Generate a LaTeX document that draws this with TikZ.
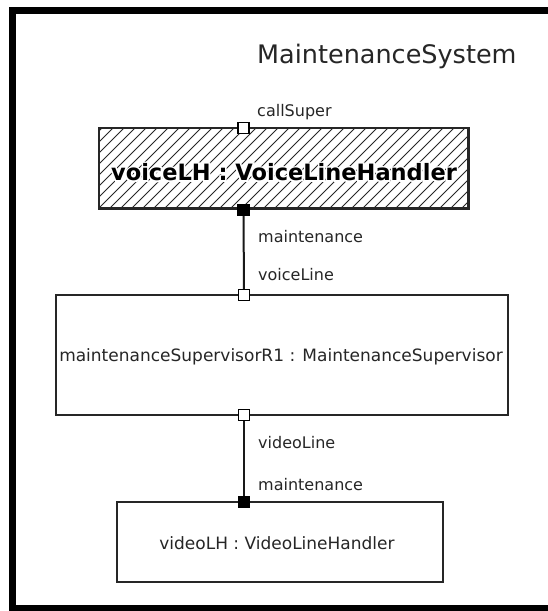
\documentclass[tikz,border=0pt]{standalone}
\usepackage{fontspec}
\setmainfont{DejaVu Sans}
\newcommand{\halotext}[1]{\rlap{\color{white}\special{pdf:literal direct 2 Tr 3.2 w}#1\special{pdf:literal direct 0 Tr}}#1}
\begin{document}
\begin{tikzpicture}[x=1pt,y=-1pt,
  compbox/.style={draw=black!85, line width=1.5pt, inner sep=0pt},
  portopen/.style={draw=black, fill=white, line width=1.3pt, minimum size=11pt, inner sep=0pt},
  portfilled/.style={draw=black, fill=black, line width=1.3pt, minimum size=11pt, inner sep=0pt},
  conn/.style={draw=black!90, line width=2pt},
  lbl/.style={anchor=base west, inner sep=0pt, font=\fontsize{16}{18}\selectfont, text=black!85},
  ctext/.style={inner sep=0pt, font=\fontsize{17}{19}\selectfont, text=black!85},
  boldtext/.style={inner sep=0pt, font=\fontsize{22.5}{26}\selectfont\bfseries}
]
\useasboundingbox (0,0) rectangle (548,611);
\fill[white] (0,0) rectangle (548,611);
\begin{scope}
  \clip (0,0) rectangle (548,611);
  \draw[line width=7pt] (12.5,10.5) rectangle (600,608.5);
\end{scope}

% title
\node[anchor=base west, inner sep=0pt, font=\fontsize{25.5}{30}\selectfont, text=black!85] (title) at (257,63) {MaintenanceSystem};

% voice line handler (hatched)
\node[compbox, minimum width=369pt, minimum height=80pt] (voice) at (283.5,168) {};
\begin{scope}
  \clip (voice.south west) rectangle (voice.north east);
  \foreach \i in {-9,...,36} \draw[line width=0.9pt, black!85] (99+\i*11,208) -- ++(82,-82);
\end{scope}
\draw[compbox] (voice.south west) rectangle (voice.north east);
\node[boldtext] (voicetext) at (284,172) {\halotext{voiceLH : VoiceLineHandler}};

% supervisor
\node[compbox, fill=white, minimum width=452pt, minimum height=120pt] (super) at (282,355) {};
\node[ctext] (supertext) at (281,357) {maintenanceSupervisorR1 : MaintenanceSupervisor};

% video line handler
\node[compbox, fill=white, minimum width=326pt, minimum height=80pt] (video) at (280,542) {};
\node[ctext] (videotext) at (277,543) {videoLH : VideoLineHandler};

% ports
\node[portopen] (pv1) at (243.5,128) {};
\node[portfilled] (pv2) at (243.5,210) {};
\node[portopen] (ps1) at (244,295) {};
\node[portopen] (ps2) at (244,415) {};
\node[portfilled] (pd1) at (244,502) {};

% connectors
\draw[conn] (pv2) -- (ps1);
\draw[conn] (ps2) -- (pd1);

% labels
\node[lbl] (lcall) at (257,116) {callSuper};
\node[lbl] (lmaint1) at (258,242) {maintenance};
\node[lbl] (lvoice) at (258,280) {voiceLine};
\node[lbl] (lvideo) at (258,448) {videoLine};
\node[lbl] (lmaint2) at (258,490) {maintenance};
\end{tikzpicture}
\end{document}
